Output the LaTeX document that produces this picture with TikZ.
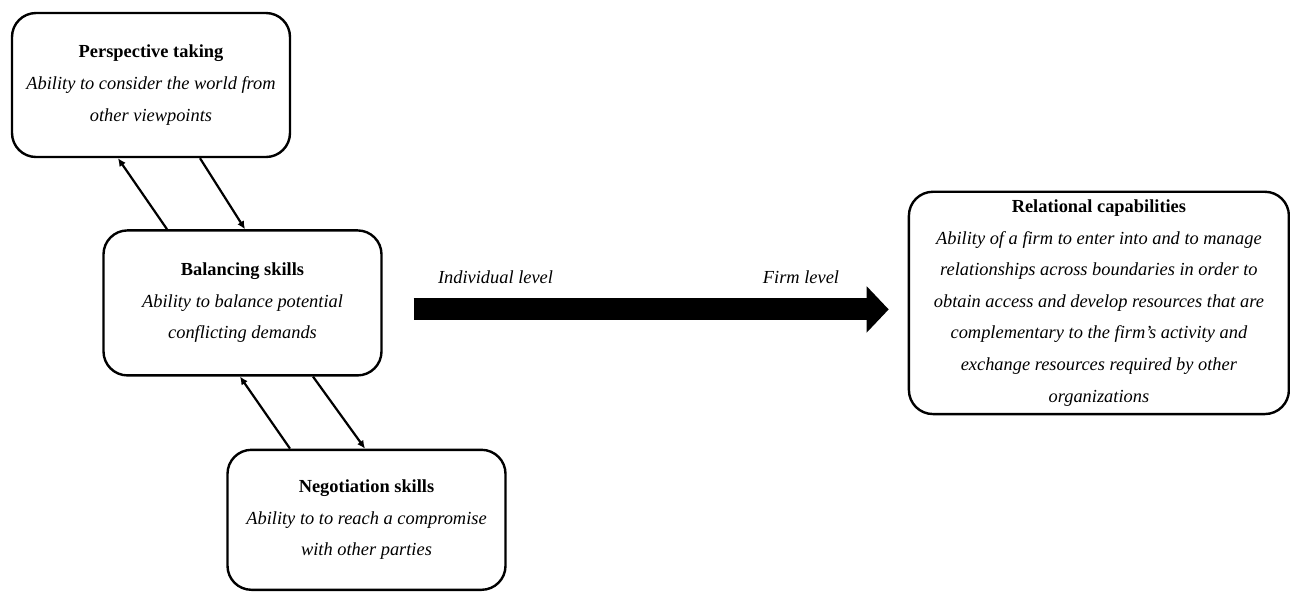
\documentclass[tikz,border=0pt]{standalone}
\usepackage{fontspec}
\setmainfont{Liberation Serif}
\usetikzlibrary{arrows.meta,positioning}
\tikzset{
  >=Latex,
  box/.style={
    rectangle, rounded corners=12pt,
    draw=black, line width=1.2pt,
    fill=white, align=center, inner sep=4pt,
    minimum width=139pt,
    font=\fontsize{9.2pt}{15.8pt}\selectfont
  },
  link/.style={-{Latex[length=4pt,width=3.8pt]}, line width=1.1pt},
  levelarrow/.style={-{Triangle[length=11pt,width=22.5pt]}, line width=11pt},
  level/.style={font=\fontsize{9.2pt}{11pt}\selectfont\itshape},
}

\begin{document}
\begin{tikzpicture}[x=0.5pt,y=-0.5pt]
\useasboundingbox (0,0) rectangle (1290,591);
% --- Nodes ---
\node[box, minimum height=72pt] (persp) at (151,85) {
  \textbf{Perspective taking}\\
  \textit{Ability to consider the world from}\\
  \textit{other viewpoints}
};
\node[box, minimum height=72.5pt, below=35.5pt of persp, xshift=45.75pt] (bal) {
  \textbf{Balancing skills}\\
  \textit{Ability to balance potential}\\
  \textit{conflicting demands}
};
\node[box, minimum height=70pt, below=36pt of bal, xshift=62pt] (neg) {
  \textbf{Negotiation skills}\\
  \textit{Ability to to reach a compromise}\\
  \textit{with other parties}
};
\node[box, minimum width=190pt, minimum height=110.5pt, right=262.5pt of bal] (rel) {
  \textbf{Relational capabilities}\\
  \textit{Ability of a firm to enter into and to manage}\\
  \textit{relationships across boundaries in order to}\\
  \textit{obtain access and develop resources that are}\\
  \textit{complementary to the firm's activity and}\\
  \textit{exchange resources required by other}\\
  \textit{organizations}
};
\node[level] (indlabel) at (495.5,277) {Individual level};
\node[level] (firmlabel) at (801,277) {Firm level};
% --- Arrows ---
\draw[link] ([xshift=-37.75pt]bal.north) -- ([xshift=-16.5pt]persp.south);   % up
\draw[link] ([xshift=24.5pt]persp.south) -- ([xshift=1.25pt]bal.north);      % down
\draw[link] ([xshift=-38.25pt]neg.north) -- ([xshift=-1.25pt]bal.south);     % up
\draw[link] ([xshift=35.25pt]bal.south) -- ([xshift=-0.75pt]neg.north);      % down
% individual -> firm
\draw[levelarrow] ([xshift=15.5pt,yshift=-3.25pt]bal.east) -- ([xshift=-9.5pt,yshift=-3.25pt]rel.west);
\end{tikzpicture}
\end{document}
